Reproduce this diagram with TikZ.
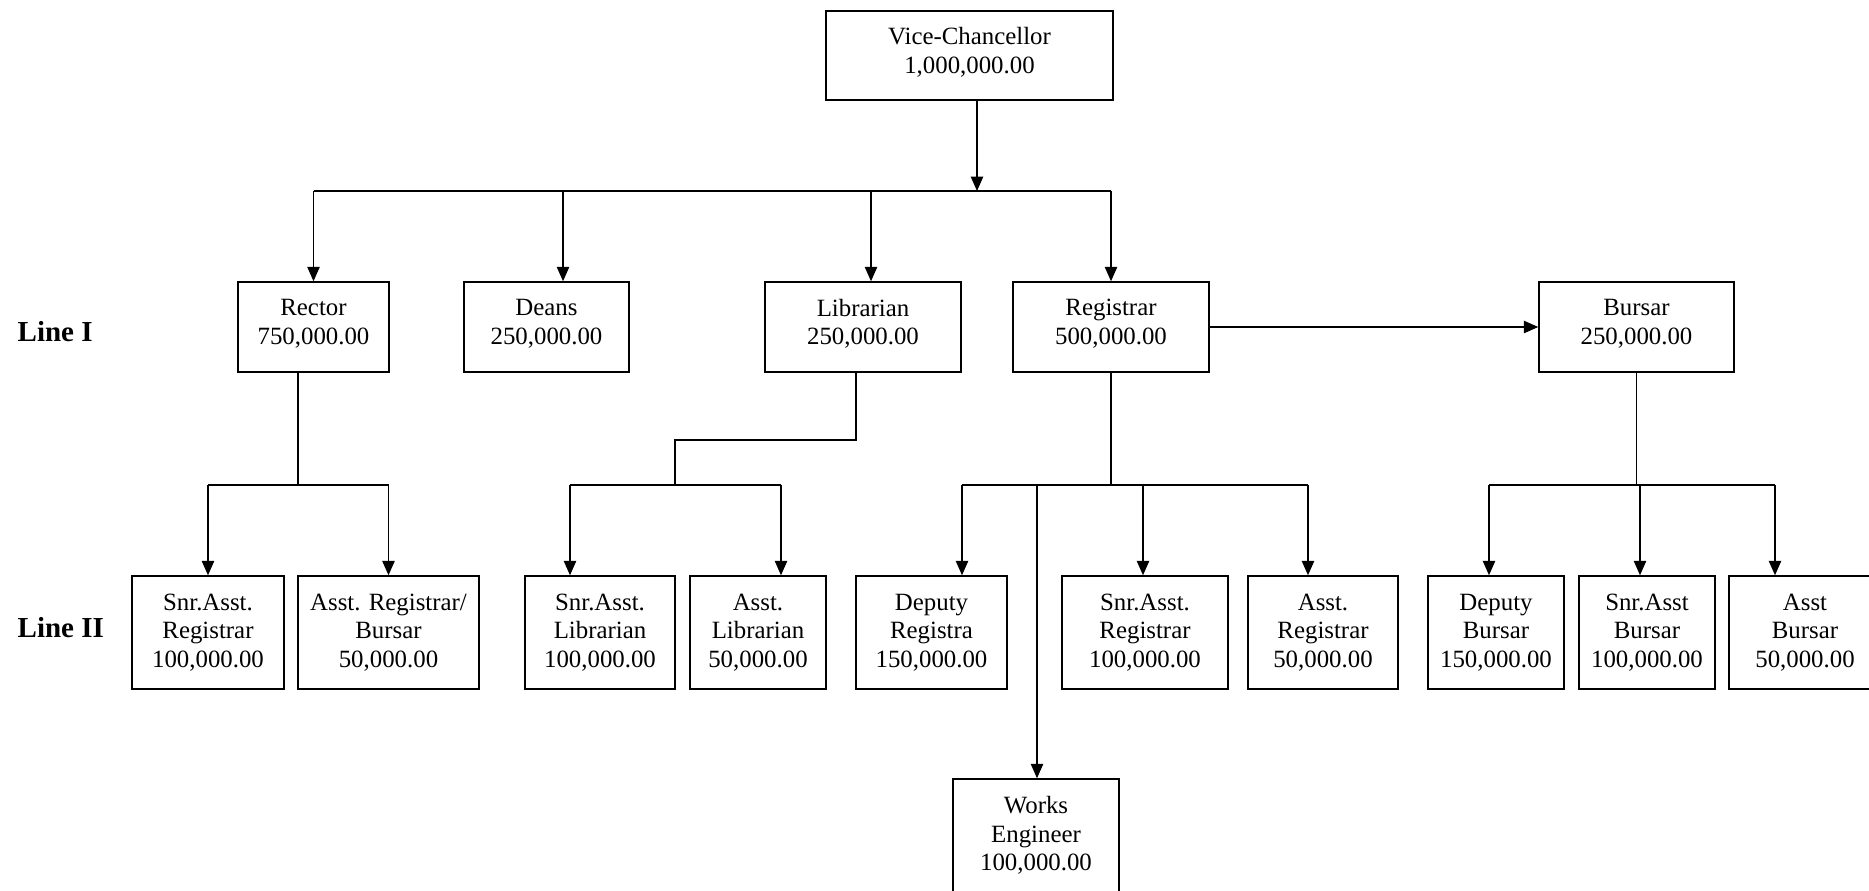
\documentclass[tikz,border=0pt]{standalone}
\usepackage{fontspec}
\setmainfont{Liberation Serif}
\usetikzlibrary{shapes, arrows.meta, positioning, arrows}

\begin{document}
\begin{tikzpicture}[x=0.483pt, y=-0.483pt, font=\fontsize{12}{13.8}\selectfont, line width=0.7pt]
    \tikzstyle{post} = [draw, align=center, inner sep=0pt]
    \tikzstyle{toppost} = [post, text depth=4.8pt]
    \tikzstyle{connector} = [draw, -{Triangle[length=7pt, width=6pt]}];
    \tikzstyle{conn} = [draw, -]
    \tikzstyle{linelabel} = [anchor=west, inner sep=0pt, font=\fontsize{14}{16}\selectfont\bfseries]
    \useasboundingbox (0,0) rectangle (1869,890);

    % top
    \node[toppost, minimum width=138.6pt, minimum height=43pt] at (969.5,55.5) (vc) {Vice-Chancellor\\1,000,000.00};

    % line I
    \node[linelabel] at (17,332) (line1) {Line I};
    \node[toppost, minimum width=72.9pt, minimum height=43.5pt] at (313.5,327) (rector) {Rector\\750,000.00};
    \node[toppost, minimum width=79.7pt, minimum height=43.5pt] at (546.5,327) (deans) {Deans\\250,000.00};
    \node[toppost, minimum width=94.7pt, minimum height=43.5pt] at (863,327) (lib) {Librarian\\250,000.00};
    \node[toppost, minimum width=94.7pt, minimum height=43.5pt] at (1111,327) (reg) {Registrar\\500,000.00};
    \node[toppost, minimum width=94.2pt, minimum height=43.5pt] at (1636.5,327) (bursar) {Bursar\\250,000.00};

    % line II
    \node[linelabel] at (17,628) (line2) {Line II};
    \node[post, minimum width=73.4pt, minimum height=54.6pt] at (208,632.5) (sar1) {Snr.Asst.\\Registrar\\100,000.00};
    \node[post, minimum width=87.4pt, minimum height=54.6pt] at (388.5,632.5) (arb) {Asst. Registrar/\\Bursar\\50,000.00};
    \node[post, minimum width=72.5pt, minimum height=54.6pt] at (600,632.5) (sal) {Snr.Asst.\\Librarian\\100,000.00};
    \node[post, minimum width=65.7pt, minimum height=54.6pt] at (758,632.5) (al) {Asst.\\Librarian\\50,000.00};
    \node[post, minimum width=72.9pt, minimum height=54.6pt] at (931.5,632.5) (dr) {Deputy\\Registra\\150,000.00};
    \node[post, minimum width=80.2pt, minimum height=54.6pt] at (1145,632.5) (sar2) {Snr.Asst.\\Registrar\\100,000.00};
    \node[post, minimum width=72.5pt, minimum height=54.6pt] at (1323,632.5) (ar) {Asst.\\Registrar\\50,000.00};
    \node[post, minimum width=65.7pt, minimum height=54.6pt] at (1496,632.5) (db) {Deputy\\Bursar\\150,000.00};
    \node[post, minimum width=65.7pt, minimum height=54.6pt] at (1647,632.5) (sab) {Snr.Asst\\Bursar\\100,000.00};
    \node[post, minimum width=73.4pt, minimum height=54.6pt] at (1805,632.5) (ab) {Asst\\Bursar\\50,000.00};
    \node[post, minimum width=80.2pt, minimum height=54.6pt] at (1036,835.5) (works) {Works\\Engineer\\100,000.00};

    % vice-chancellor to line I
    \coordinate (vcdrop) at (977,191);
    \coordinate (busL) at (313.5,191);
    \coordinate (d1) at (563,191);
    \coordinate (d2) at (871,191);
    \path[connector] (vc.south -| vcdrop) -- (vcdrop);
    \path[conn] (busL) -- (reg.north |- busL);
    \path[connector] (busL) -- (rector.north);
    \path[connector] (d1) -- (d1 |- deans.north);
    \path[connector] (d2) -- (d2 |- lib.north);
    \path[connector] (reg.north |- busL) -- (reg.north);
    \path[connector] (reg.east) -- (bursar.west);

    % rector
    \coordinate (rbus) at (298,485);
    \path[conn] (rbus |- rector.south) -- (rbus);
    \path[conn] (sar1.north |- rbus) -- (arb.north |- rbus);
    \path[connector] (sar1.north |- rbus) -- (sar1.north);
    \path[connector] (arb.north |- rbus) -- (arb.north);

    % librarian
    \coordinate (lstep) at (856,440);
    \coordinate (lbus) at (675,485);
    \coordinate (l1) at (570,485);
    \coordinate (l2) at (781,485);
    \path[conn] (lstep |- lib.south) -- (lstep) -| (lbus);
    \path[conn] (l1) -- (l2);
    \path[connector] (l1) -- (l1 |- sal.north);
    \path[connector] (l2) -- (l2 |- al.north);

    % registrar
    \coordinate (g1) at (962,485);
    \coordinate (g2) at (1143,485);
    \coordinate (g3) at (1308,485);
    \coordinate (gw) at (1037,485);
    \path[conn] (reg.south) -- (reg.south |- g1);
    \path[conn] (g1) -- (g3);
    \path[connector] (g1) -- (g1 |- dr.north);
    \path[connector] (g2) -- (g2 |- sar2.north);
    \path[connector] (g3) -- (g3 |- ar.north);
    \path[connector] (gw) -- (gw |- works.north);

    % bursar
    \coordinate (b1) at (1489,485);
    \coordinate (b2) at (1640,485);
    \coordinate (b3) at (1775,485);
    \path[conn] (bursar.south) -- (bursar.south |- b1);
    \path[conn] (b1) -- (b3);
    \path[connector] (b1) -- (b1 |- db.north);
    \path[connector] (b2) -- (b2 |- sab.north);
    \path[connector] (b3) -- (b3 |- ab.north);
\end{tikzpicture}
\end{document}
